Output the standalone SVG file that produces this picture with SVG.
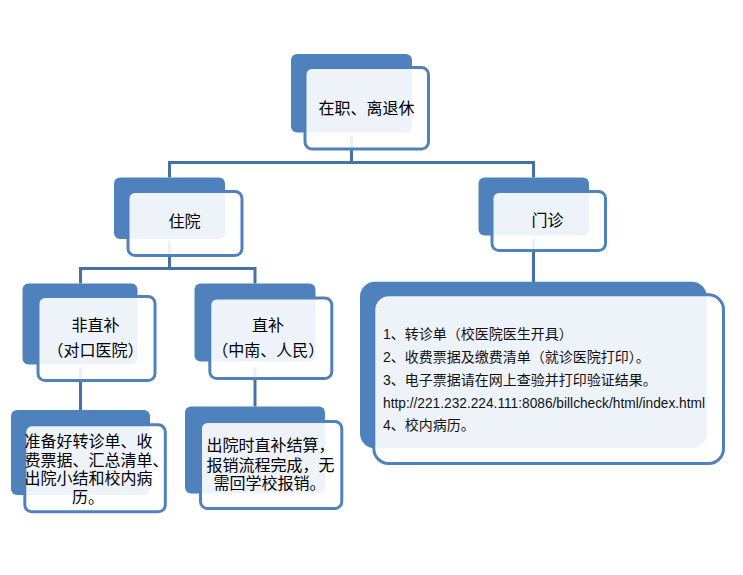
<svg xmlns="http://www.w3.org/2000/svg" width="743" height="575" viewBox="0 0 743 575">
<style>
.back{fill:#4F81BD;}
.front{fill:#FFFFFF;fill-opacity:0.9;stroke:#4F81BD;stroke-width:3;}
.conn{stroke:#4472A8;stroke-width:3;fill:none;}
.t{font-family:"Noto Sans CJK SC","Liberation Sans",sans-serif;font-size:16px;fill:#000;}
.c{text-anchor:middle;}
.s{font-family:"Liberation Sans","Noto Sans CJK SC",sans-serif;font-size:14px;fill:#111;}
</style>
<rect width="743" height="575" fill="#FFFFFF"/>
<g id="connectors">
<path class="conn" d="M351.5 136V162.5M168 162.5H535M169.5 161V177.5M533.5 161V177.5"/>
<path class="conn" d="M169.5 241V268.5M79 268.5H256.5M80.5 267V283.5M255 267V283.5"/>
<path class="conn" d="M80.5 367V410M255 367V406.5M533.5 238V282"/>
</g>
<g id="node-top">
<rect class="back" x="291" y="54" width="121" height="78.5" rx="6"/>
<rect class="front" x="305" y="67.5" width="123.5" height="81.5" rx="7"/>
<text class="t c" x="366.5" y="113.5">在职、离退休</text>
</g>
<g id="node-zhuyuan">
<rect class="back" x="114" y="177.5" width="111" height="61.5" rx="6"/>
<rect class="front" x="128" y="191.5" width="114" height="64" rx="7"/>
<text class="t c" x="184.5" y="227">住院</text>
</g>
<g id="node-menzhen">
<rect class="back" x="478.5" y="177.5" width="110.5" height="58" rx="6"/>
<rect class="front" x="492" y="191.5" width="113.5" height="59" rx="7"/>
<text class="t c" x="547.5" y="226">门诊</text>
</g>
<g id="node-feizhibu">
<rect class="back" x="22.5" y="283.5" width="115" height="81" rx="6"/>
<rect class="front" x="38" y="296.5" width="117" height="84" rx="7"/>
<text class="t c" x="95.5" y="331">非直补</text>
<text class="t c" x="95.5" y="356">（对口医院）</text>
</g>
<g id="node-zhibu">
<rect class="back" x="194.5" y="283.5" width="121" height="78" rx="6"/>
<rect class="front" x="209.8" y="298" width="122" height="80.5" rx="7"/>
<text class="t c" x="268" y="331">直补</text>
<text class="t c" x="268.3" y="356">（中南、人民）</text>
</g>
<g id="node-feizhibu-desc">
<rect class="back" x="11" y="410" width="139" height="85" rx="6"/>
<rect class="front" x="24.8" y="424.8" width="140.5" height="87" rx="7"/>
<text class="t" x="24.5" y="447">准备好转诊单、收</text>
<text class="t" x="24.5" y="466">费票据、汇总清单、</text>
<text class="t" x="24.5" y="484.3">出院小结和校内病</text>
<text class="t" x="72" y="502.7">历。</text>
</g>
<g id="node-zhibu-desc">
<rect class="back" x="185" y="406.5" width="140" height="87" rx="6"/>
<rect class="front" x="200.5" y="421.5" width="141.3" height="87" rx="7"/>
<text class="t" x="206.5" y="451">出院时直补结算，</text>
<text class="t" x="206.5" y="471">报销流程完成，无</text>
<text class="t" x="213.5" y="489.3">需回学校报销。</text>
</g>
<g id="node-menzhen-desc">
<rect class="back" x="360" y="281.7" width="346.7" height="166.6" rx="15"/>
<rect class="front" x="373.8" y="294.8" width="349.7" height="168.7" rx="15"/>
<text class="s" x="383" y="338.6">1、转诊单（校医院医生开具）</text>
<text class="s" x="383" y="362">2、收费票据及缴费清单（就诊医院打印）。</text>
<text class="s" x="383" y="384.6">3、电子票据请在网上查验并打印验证结果。</text>
<text class="s" x="383" y="408" font-size="13.7" textLength="322" lengthAdjust="spacingAndGlyphs">http://221.232.224.111:8086/billcheck/html/index.html</text>
<text class="s" x="383" y="430.3">4、校内病历。</text>
</g>
</svg>
